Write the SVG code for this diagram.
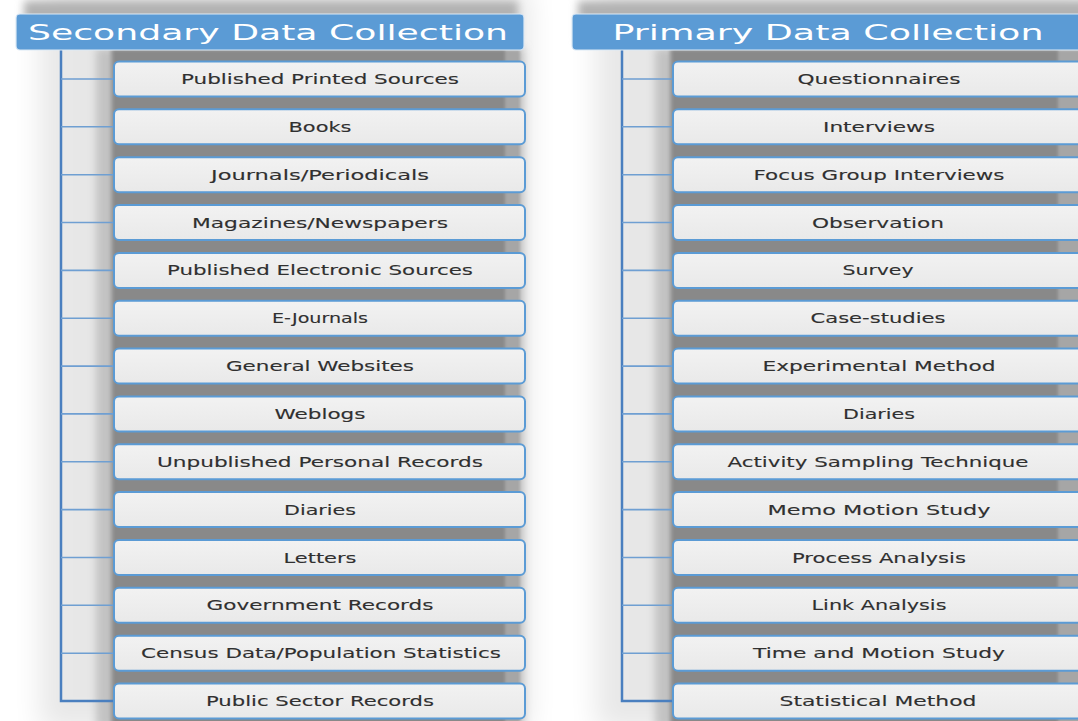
<svg xmlns="http://www.w3.org/2000/svg" width="1078" height="721" viewBox="0 0 1078 721">
  <defs>
    <filter id="soft" x="-20%" y="-20%" width="140%" height="140%">
      <feGaussianBlur stdDeviation="14"/>
    </filter>
    <filter id="mid" x="-10%" y="-10%" width="120%" height="120%">
      <feGaussianBlur stdDeviation="4"/>
    </filter>
    <filter id="tight" x="-10%" y="-10%" width="120%" height="120%">
      <feGaussianBlur stdDeviation="1.5"/>
    </filter>
    <linearGradient id="boxFill" x1="0" y1="0" x2="0" y2="1">
      <stop offset="0" stop-color="#f2f2f2"/>
      <stop offset="1" stop-color="#e9e9e9"/>
    </linearGradient>
  </defs>
  <style>
    .hdr { fill: #5b9bd5; stroke: #dce9f6; stroke-width: 1.2; }
    .hdr-t { font-family: "DejaVu Sans", "Liberation Sans", sans-serif; font-size: 22px; fill: #ffffff; text-anchor: middle; }
    .box { fill: url(#boxFill); stroke: #5b9bd5; stroke-width: 2; }
    .box-t { font-family: "DejaVu Sans", "Liberation Sans", sans-serif; font-size: 14px; fill: #303030; stroke: #303030; stroke-width: 0.12; text-anchor: middle; }
    .trunk { stroke: #4a7fbf; stroke-width: 2.5; fill: none; }
    .branch { stroke: #6f9fd2; stroke-width: 1.6; fill: none; }
  </style>

  <!-- page -->
  <rect x="0" y="0" width="1078" height="721" fill="#ffffff"/>

  <!-- soft drop shadows behind both stacks -->
  <g id="shadows">
    <rect x="40" y="-10" width="490" height="740" fill="#000" opacity="0.09" filter="url(#soft)"/>
    <rect x="596" y="-10" width="500" height="740" fill="#000" opacity="0.09" filter="url(#soft)"/>
    <rect x="24" y="1" width="494" height="40" fill="#b2b2b2" filter="url(#mid)"/>
    <rect x="578" y="1" width="510" height="40" fill="#b2b2b2" filter="url(#mid)"/>
    <rect x="96" y="48" width="428" height="680" fill="#c2c2c2" filter="url(#mid)"/>
    <rect x="655" y="48" width="440" height="680" fill="#c2c2c2" filter="url(#mid)"/>
    <rect x="110" y="50" width="410" height="680" fill="#a6a6a6" filter="url(#tight)"/>
    <rect x="669" y="50" width="420" height="680" fill="#a6a6a6" filter="url(#tight)"/>
    <rect x="113" y="50" width="392" height="680" fill="#898989" filter="url(#tight)"/>
    <rect x="672" y="50" width="386" height="680" fill="#898989" filter="url(#tight)"/>
  </g>

  <!-- tree connectors -->
  <g id="connectors">
    <path class="trunk" d="M61 50 V701 H113"/>
    <path class="branch" d="M61 79 H114 M61 126.8 H114 M61 174.7 H114 M61 222.5 H114 M61 270.4 H114 M61 318.2 H114 M61 366.1 H114 M61 413.9 H114 M61 461.8 H114 M61 509.6 H114 M61 557.5 H114 M61 605.3 H114 M61 653.2 H114"/>
    <path class="trunk" d="M622 50 V701 H672"/>
    <path class="branch" d="M622 79 H673 M622 126.8 H673 M622 174.7 H673 M622 222.5 H673 M622 270.4 H673 M622 318.2 H673 M622 366.1 H673 M622 413.9 H673 M622 461.8 H673 M622 509.6 H673 M622 557.5 H673 M622 605.3 H673 M622 653.2 H673"/>
  </g>

  <!-- secondary column -->
  <g id="secondary-header">
    <rect class="hdr" x="16" y="14" width="508" height="36" rx="4"/>
    <text class="hdr-t" x="268" y="39.5" textLength="480" lengthAdjust="spacingAndGlyphs">Secondary Data Collection</text>
  </g>
  <g id="s01"><rect class="box" x="114" y="61.5" width="411" height="35" rx="5"/><text class="box-t" x="320" y="84" textLength="278" lengthAdjust="spacingAndGlyphs">Published Printed Sources</text></g>
  <g id="s02"><rect class="box" x="114" y="109.3" width="411" height="35" rx="5"/><text class="box-t" x="320" y="131.8" textLength="63" lengthAdjust="spacingAndGlyphs">Books</text></g>
  <g id="s03"><rect class="box" x="114" y="157.2" width="411" height="35" rx="5"/><text class="box-t" x="320" y="179.7" textLength="218" lengthAdjust="spacingAndGlyphs">Journals/Periodicals</text></g>
  <g id="s04"><rect class="box" x="114" y="205" width="411" height="35" rx="5"/><text class="box-t" x="320" y="227.5" textLength="256" lengthAdjust="spacingAndGlyphs">Magazines/Newspapers</text></g>
  <g id="s05"><rect class="box" x="114" y="252.9" width="411" height="35" rx="5"/><text class="box-t" x="320" y="275.4" textLength="306" lengthAdjust="spacingAndGlyphs">Published Electronic Sources</text></g>
  <g id="s06"><rect class="box" x="114" y="300.7" width="411" height="35" rx="5"/><text class="box-t" x="320" y="323.2" textLength="96" lengthAdjust="spacingAndGlyphs">E-Journals</text></g>
  <g id="s07"><rect class="box" x="114" y="348.6" width="411" height="35" rx="5"/><text class="box-t" x="320" y="371.1" textLength="188" lengthAdjust="spacingAndGlyphs">General Websites</text></g>
  <g id="s08"><rect class="box" x="114" y="396.4" width="411" height="35" rx="5"/><text class="box-t" x="320" y="418.9" textLength="91" lengthAdjust="spacingAndGlyphs">Weblogs</text></g>
  <g id="s09"><rect class="box" x="114" y="444.3" width="411" height="35" rx="5"/><text class="box-t" x="320" y="466.8" textLength="326" lengthAdjust="spacingAndGlyphs">Unpublished Personal Records</text></g>
  <g id="s10"><rect class="box" x="114" y="492.1" width="411" height="35" rx="5"/><text class="box-t" x="320" y="514.6" textLength="72" lengthAdjust="spacingAndGlyphs">Diaries</text></g>
  <g id="s11"><rect class="box" x="114" y="540" width="411" height="35" rx="5"/><text class="box-t" x="320" y="562.5" textLength="73" lengthAdjust="spacingAndGlyphs">Letters</text></g>
  <g id="s12"><rect class="box" x="114" y="587.8" width="411" height="35" rx="5"/><text class="box-t" x="320" y="610.3" textLength="227" lengthAdjust="spacingAndGlyphs">Government Records</text></g>
  <g id="s13"><rect class="box" x="114" y="635.7" width="411" height="35" rx="5"/><text class="box-t" x="321" y="658.2" textLength="360" lengthAdjust="spacingAndGlyphs">Census Data/Population Statistics</text></g>
  <g id="s14"><rect class="box" x="114" y="683.5" width="411" height="35" rx="5"/><text class="box-t" x="320" y="706" textLength="228" lengthAdjust="spacingAndGlyphs">Public Sector Records</text></g>

  <!-- primary column -->
  <g id="primary-header">
    <rect class="hdr" x="572" y="14" width="520" height="36" rx="4"/>
    <text class="hdr-t" x="828" y="39.5" textLength="431" lengthAdjust="spacingAndGlyphs">Primary Data Collection</text>
  </g>
  <g id="p01"><rect class="box" x="673" y="61.5" width="420" height="35" rx="5"/><text class="box-t" x="879" y="84" textLength="163" lengthAdjust="spacingAndGlyphs">Questionnaires</text></g>
  <g id="p02"><rect class="box" x="673" y="109.3" width="420" height="35" rx="5"/><text class="box-t" x="879" y="131.8" textLength="112" lengthAdjust="spacingAndGlyphs">Interviews</text></g>
  <g id="p03"><rect class="box" x="673" y="157.2" width="420" height="35" rx="5"/><text class="box-t" x="879" y="179.7" textLength="251" lengthAdjust="spacingAndGlyphs">Focus Group Interviews</text></g>
  <g id="p04"><rect class="box" x="673" y="205" width="420" height="35" rx="5"/><text class="box-t" x="878" y="227.5" textLength="132" lengthAdjust="spacingAndGlyphs">Observation</text></g>
  <g id="p05"><rect class="box" x="673" y="252.9" width="420" height="35" rx="5"/><text class="box-t" x="878" y="275.4" textLength="71" lengthAdjust="spacingAndGlyphs">Survey</text></g>
  <g id="p06"><rect class="box" x="673" y="300.7" width="420" height="35" rx="5"/><text class="box-t" x="878" y="323.2" textLength="135" lengthAdjust="spacingAndGlyphs">Case-studies</text></g>
  <g id="p07"><rect class="box" x="673" y="348.6" width="420" height="35" rx="5"/><text class="box-t" x="879" y="371.1" textLength="233" lengthAdjust="spacingAndGlyphs">Experimental Method</text></g>
  <g id="p08"><rect class="box" x="673" y="396.4" width="420" height="35" rx="5"/><text class="box-t" x="879" y="418.9" textLength="72" lengthAdjust="spacingAndGlyphs">Diaries</text></g>
  <g id="p09"><rect class="box" x="673" y="444.3" width="420" height="35" rx="5"/><text class="box-t" x="878" y="466.8" textLength="301" lengthAdjust="spacingAndGlyphs">Activity Sampling Technique</text></g>
  <g id="p10"><rect class="box" x="673" y="492.1" width="420" height="35" rx="5"/><text class="box-t" x="879" y="514.6" textLength="223" lengthAdjust="spacingAndGlyphs">Memo Motion Study</text></g>
  <g id="p11"><rect class="box" x="673" y="540" width="420" height="35" rx="5"/><text class="box-t" x="879" y="562.5" textLength="174" lengthAdjust="spacingAndGlyphs">Process Analysis</text></g>
  <g id="p12"><rect class="box" x="673" y="587.8" width="420" height="35" rx="5"/><text class="box-t" x="879" y="610.3" textLength="135" lengthAdjust="spacingAndGlyphs">Link Analysis</text></g>
  <g id="p13"><rect class="box" x="673" y="635.7" width="420" height="35" rx="5"/><text class="box-t" x="879" y="658.2" textLength="252" lengthAdjust="spacingAndGlyphs">Time and Motion Study</text></g>
  <g id="p14"><rect class="box" x="673" y="683.5" width="420" height="35" rx="5"/><text class="box-t" x="878" y="706" textLength="197" lengthAdjust="spacingAndGlyphs">Statistical Method</text></g>
</svg>
